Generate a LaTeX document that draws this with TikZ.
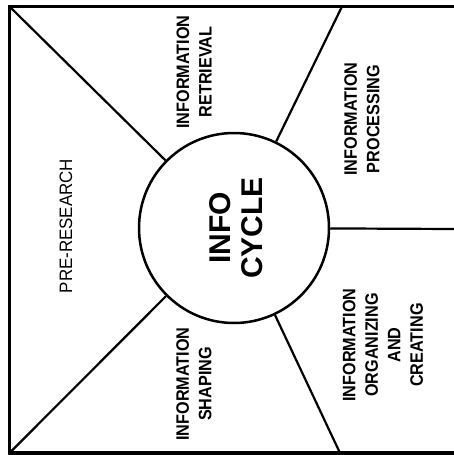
\documentclass[tikz,border=0pt]{standalone}
\usepackage{fontspec}
\setmainfont{Liberation Sans}
\newfontfamily\labfont[FakeStretch=0.9]{Liberation Sans}
\newfontfamily\prefont[FakeStretch=0.94]{Liberation Sans}
\begin{document}
\begin{tikzpicture}[x=1pt,y=-1pt,
  frame/.style={line width=3.2pt, line cap=rect},
  spoke/.style={line width=2.2pt},
  hub/.style={draw, circle, line width=2.5pt, minimum size=190pt, inner sep=0pt},
  lab/.style={rotate=90, align=center, inner sep=0pt, font=\labfont\bfseries\fontsize{18}{22.5}\selectfont},
  prelab/.style={rotate=90, align=center, inner sep=0pt, font=\prefont\fontsize{18}{22}\selectfont},
  hubtext/.style={rotate=90, align=center, inner sep=0pt, font=\bfseries\fontsize{30}{32}\selectfont}]
\useasboundingbox (0,0) rectangle (454,455);
\coordinate (tl) at (9.5,6.5);
\coordinate (tr) at (455,6.5);
\coordinate (bl) at (9.5,453);
\coordinate (br) at (455,453);
\coordinate (tm) at (342,6.5);
\coordinate (rm) at (455,229);
\coordinate (bm) at (340,453);
\draw[frame] (tr) -- (tl) -- (bl) -- (br);
\node[hub] (c) at (234,228) {};
\draw[spoke] (c) -- (tl);
\draw[spoke] (c) -- (tm);
\draw[spoke] (c) -- (rm);
\draw[spoke] (c) -- (bm);
\draw[spoke] (c) -- (bl);
\node[hubtext] (cyc) at (236,228) {INFO\\CYCLE};
\node[lab] (ret) at (194,72) {INFORMATION\\RETRIEVAL};
\node[lab] (proc) at (362,119) {INFORMATION\\PROCESSING};
\node[prelab] (pre) at (66,226) {PRE-RESEARCH};
\node[lab] (shap) at (194,384) {INFORMATION\\SHAPING};
\node[lab] (org) at (383,345) {INFORMATION\\ORGANIZING\\AND\\CREATING};
\end{tikzpicture}
\end{document}
